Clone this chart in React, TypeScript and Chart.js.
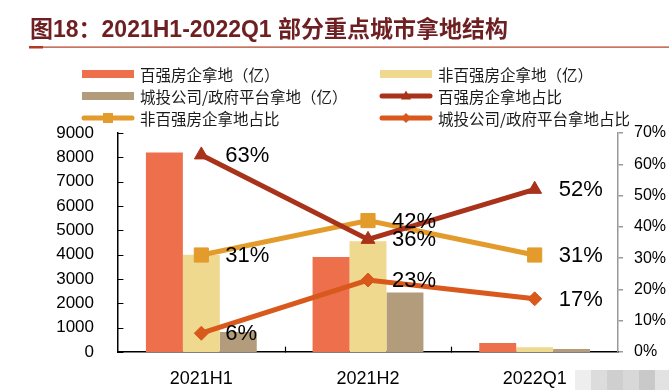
import React, { useEffect, useRef } from "react";
import { Chart, registerables } from "chart.js";

Chart.register(...registerables);

const titleText = "图18：2021H1-2022Q1 部分重点城市拿地结构";
const categories = ["2021H1", "2021H2", "2022Q1"];
const top100Land = [8200, 3900, 370];
const nonTop100Land = [4000, 4550, 200];
const lgfvLand = [820, 2450, 120];
const top100Share = [0.63, 0.36, 0.52];
const nonTop100Share = [0.31, 0.42, 0.31];
const lgfvShare = [0.06, 0.23, 0.17];
const seriesNames = [
  "百强房企拿地（亿）",
  "非百强房企拿地（亿）",
  "城投公司/政府平台拿地（亿）",
  "百强房企拿地占比",
  "非百强房企拿地占比",
  "城投公司/政府平台拿地占比",
];

const C_BAR1 = "#EE6F4B";
const C_BAR2 = "#EFD98E";
const C_BAR3 = "#B39C7B";
const C_L1 = "#A8321A";
const C_L2 = "#E39B2B";
const C_L3 = "#D9581B";

const SANS = '"Liberation Sans", Arial, sans-serif';
const CJK = '"Noto Sans CJK SC", "Liberation Sans", sans-serif';
const TITLE_FONT = '"Liberation Sans", "Noto Sans CJK SC", sans-serif';

function drawMarker(ctx: CanvasRenderingContext2D, style: string, x: number, y: number, r: number, color: string) {
  ctx.save();
  ctx.fillStyle = color;
  ctx.beginPath();
  if (style === "rect") {
    ctx.rect(x - r, y - r, 2 * r, 2 * r);
  } else if (style === "triangle") {
    ctx.moveTo(x, y - r * 1.1);
    ctx.lineTo(x + r, y + r * 0.7);
    ctx.lineTo(x - r, y + r * 0.7);
    ctx.closePath();
  } else {
    ctx.moveTo(x, y - r);
    ctx.lineTo(x + r, y);
    ctx.lineTo(x, y + r);
    ctx.lineTo(x - r, y);
    ctx.closePath();
  }
  ctx.fill();
  ctx.restore();
}

const decorPlugin = {
  id: "decor",
  afterDraw(chart: any) {
    const ctx: CanvasRenderingContext2D = chart.ctx;
    const area = chart.chartArea;
    ctx.save();
    // title
    ctx.fillStyle = "#6E1F22";
    ctx.font = `bold 23px ${TITLE_FONT}`;
    ctx.textBaseline = "alphabetic";
    ctx.textAlign = "left";
    ctx.fillText(titleText, 30, 37);
    // underline
    ctx.fillStyle = "#B33A1E";
    ctx.fillRect(29, 46.5, 640, 1.2);
    ctx.fillRect(29, 46, 14, 2.5);

    // legend
    const items = [
      { name: seriesNames[0], kind: "bar", color: C_BAR1, x: 82, y: 74 },
      { name: seriesNames[1], kind: "bar", color: C_BAR2, x: 380, y: 74 },
      { name: seriesNames[2], kind: "bar", color: C_BAR3, x: 82, y: 96 },
      { name: seriesNames[3], kind: "line", color: C_L1, marker: "triangle", x: 380, y: 96 },
      { name: seriesNames[4], kind: "line", color: C_L2, marker: "rect", x: 82, y: 118 },
      { name: seriesNames[5], kind: "line", color: C_L3, marker: "diamond", x: 380, y: 118 },
    ];
    for (const it of items) {
      if (it.kind === "bar") {
        ctx.fillStyle = it.color;
        ctx.fillRect(it.x, it.y - 4, 52, 8);
      } else {
        ctx.strokeStyle = it.color;
        ctx.lineWidth = 5;
        ctx.lineCap = "round";
        ctx.beginPath();
        ctx.moveTo(it.x + 2, it.y);
        ctx.lineTo(it.x + 50, it.y);
        ctx.stroke();
        drawMarker(ctx, (it as any).marker, it.x + 26, it.y, 5, it.color);
      }
      ctx.fillStyle = "#1a1a1a";
      ctx.font = `15.5px ${CJK}`;
      ctx.textBaseline = "middle";
      ctx.fillText(it.name, it.x + 58, it.y + 1);
    }

    // inward ticks on left axis
    const yScale = chart.scales.y;
    ctx.strokeStyle = "#000";
    ctx.lineWidth = 1.2;
    for (const t of yScale.ticks) {
      const py = Math.round(yScale.getPixelForValue(t.value)) + 0.5;
      ctx.beginPath();
      ctx.moveTo(area.left, py);
      ctx.lineTo(area.left + 5, py);
      ctx.stroke();
    }
    // inward ticks on x axis between categories
    const xScale = chart.scales.x;
    for (let i = 0; i < categories.length - 1; i++) {
      const px = Math.round((xScale.getPixelForValue(i) + xScale.getPixelForValue(i + 1)) / 2) + 0.5;
      ctx.beginPath();
      ctx.moveTo(px, area.bottom);
      ctx.lineTo(px, area.bottom - 5);
      ctx.stroke();
    }

    // data labels for share lines
    ctx.fillStyle = "#000";
    ctx.font = `22px ${SANS}`;
    ctx.textBaseline = "middle";
    ctx.textAlign = "left";
    [3, 4, 5].forEach((di) => {
      const meta = chart.getDatasetMeta(di);
      const vals = chart.data.datasets[di].data as number[];
      meta.data.forEach((pt: any, i: number) => {
        ctx.fillText(`${Math.round(vals[i] * 100)}%`, pt.x + 24, pt.y + 1);
      });
    });

    // faint watermark tiles bottom-right
    const tiles = ["#eeeeee", "#dcdcdc", "#cfcfcf", "#d8d8d8", "#c9c9c9", "#e2e2e2"];
    tiles.forEach((c, i) => {
      ctx.fillStyle = c;
      ctx.fillRect(575 + i * 16, 370, 16, 20);
    });
    ctx.restore();
  },
};

export default function App() {
  const ref = useRef<HTMLCanvasElement | null>(null);
  useEffect(() => {
    if (!ref.current) return;
    const chart = new Chart(ref.current, {
      type: "bar",
      data: {
        labels: categories,
        datasets: [
          { type: "bar", label: seriesNames[0], data: top100Land, backgroundColor: C_BAR1, yAxisID: "y", order: 2, barPercentage: 1, categoryPercentage: 0.665 },
          { type: "bar", label: seriesNames[1], data: nonTop100Land, backgroundColor: C_BAR2, yAxisID: "y", order: 2, barPercentage: 1, categoryPercentage: 0.665 },
          { type: "bar", label: seriesNames[2], data: lgfvLand, backgroundColor: C_BAR3, yAxisID: "y", order: 2, barPercentage: 1, categoryPercentage: 0.665 },
          { type: "line", label: seriesNames[3], data: top100Share, borderColor: C_L1, backgroundColor: C_L1, borderWidth: 5, pointStyle: "triangle", pointRadius: 8, pointBorderWidth: 1, yAxisID: "y1", order: 0, tension: 0 },
          { type: "line", label: seriesNames[4], data: nonTop100Share, borderColor: C_L2, backgroundColor: C_L2, borderWidth: 5, pointStyle: "rect", pointRadius: 10, pointBorderWidth: 1, yAxisID: "y1", order: 1, tension: 0 },
          { type: "line", label: seriesNames[5], data: lgfvShare, borderColor: C_L3, backgroundColor: C_L3, borderWidth: 5, pointStyle: "rectRot", pointRadius: 7, pointBorderWidth: 1, yAxisID: "y1", order: 1, tension: 0 },
        ] as any,
      },
      options: {
        responsive: false,
        animation: false,
        devicePixelRatio: 1,
        layout: { padding: { top: 133, left: 0, right: 0, bottom: 0 } },
        plugins: { legend: { display: false }, tooltip: { enabled: false }, title: { display: false } },
        scales: {
          x: {
            grid: { display: false },
            border: { display: true, color: "#000", width: 1.5 },
            ticks: { color: "#000", font: { size: 18, family: SANS }, padding: 8 },
            afterFit: (s: any) => { s.height = 38; },
          },
          y: {
            position: "left",
            min: 0,
            max: 9000,
            ticks: { stepSize: 1000, color: "#000", font: { size: 17, family: SANS }, padding: 16, callback: (v: any) => String(v) },
            grid: { display: false },
            border: { display: true, color: "#000", width: 1.5 },
            afterFit: (s: any) => { s.width = 118; },
          },
          y1: {
            position: "right",
            min: 0,
            max: 0.7,
            ticks: { stepSize: 0.1, color: "#000", font: { size: 16, family: SANS }, padding: 11, callback: (v: any) => `${Math.round(Number(v) * 100)}%` },
            grid: { display: true, drawOnChartArea: false, drawTicks: true, tickLength: 5, color: "#999", lineWidth: 1.5 },
            border: { display: true, color: "#999", width: 1.5 },
            afterFit: (s: any) => { s.width = 51; },
          },
        },
      } as any,
      plugins: [decorPlugin],
    });
    return () => chart.destroy();
  }, []);
  return (
    <div style={{ position: "absolute", left: 0, top: 0, width: 669, height: 390, background: "#fff" }}>
      <canvas ref={ref} width={669} height={390} style={{ display: "block" }} />
    </div>
  );
}
